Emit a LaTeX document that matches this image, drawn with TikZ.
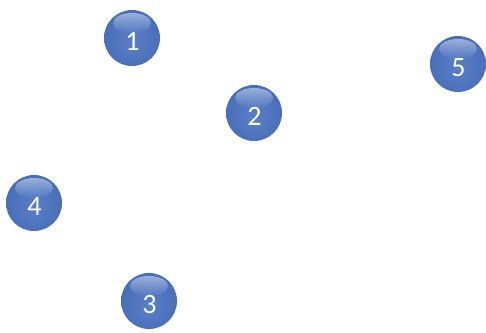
\documentclass[tikz,border=0pt]{standalone}
\usepackage{fontspec}
\setmainfont{Carlito}
\usetikzlibrary{fadings,calc}
\definecolor{orbmid}{HTML}{3F66B2}
\definecolor{orbdark}{HTML}{284789}
\definecolor{orbrim}{HTML}{152858}
\definecolor{orbcore}{HTML}{5A7FC6}
\definecolor{orbbody}{HTML}{4B71BC}
\pgfdeclareradialshading{orb}{\pgfpoint{0bp}{-4bp}}{%
  color(0bp)=(orbcore);
  color(22bp)=(orbbody);
  color(37bp)=(orbmid);
  color(46bp)=(orbdark);
  color(53bp)=(orbrim);
  color(60bp)=(orbrim)}
\tikzfading[name=glint, top color=transparent!55, bottom color=transparent!100]
\tikzset{
  orbnode/.style={circle, minimum size=56pt, inner sep=0pt, text=white,
    font=\fontsize{28}{28}\selectfont},
}
\newcommand{\orb}[3]{%
  \shade[shading=orb] (#2) circle (28pt);
  \fill[white, path fading=glint] ($(#2)+(0,15pt)$) ellipse (19pt and 10pt);
  \node[orbnode] (#1) at ($(#2)+(0.5pt,-3.5pt)$) {#3};
}
\begin{document}
\begin{tikzpicture}[x=1pt,y=1pt]
  \useasboundingbox (0,0) rectangle (486,332);
  \orb{n1}{132,294}{1}
  \orb{n2}{254,219}{2}
  \orb{n5}{458,268}{5}
  \orb{n4}{34,129}{4}
  \orb{n3}{149,31}{3}
\end{tikzpicture}
\end{document}
